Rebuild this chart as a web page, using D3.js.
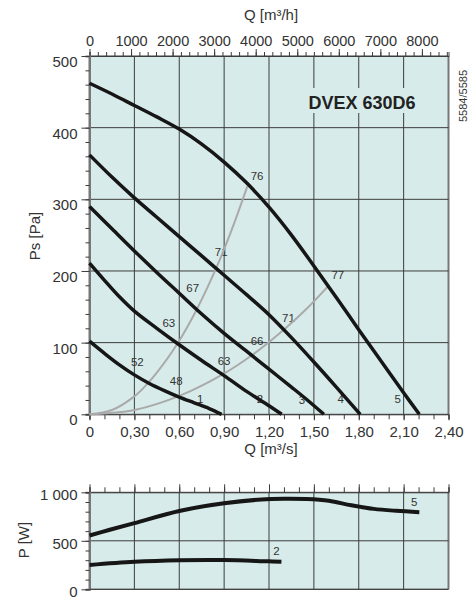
<!DOCTYPE html>
<html><head><meta charset="utf-8">
<script src="https://cdn.jsdelivr.net/npm/d3@7"></script>
<style>html,body{margin:0;padding:0;background:#fff;}svg{display:block;font-family:"Liberation Sans",Arial,sans-serif;}</style>
</head><body>
<svg id="c" width="469" height="602"></svg>
<script>
// ---------- data (Q in m³/s, Ps in Pa, P in W) ----------
const curve1 = [[0,102],[0.1,85],[0.2,69],[0.3,55],[0.4,43],[0.5,33],[0.6,24],[0.7,16],[0.8,8],[0.883,0]];
const curve2 = [[0,211],[0.1,187],[0.2,164],[0.3,144],[0.45,120],[0.6,97],[0.75,75],[0.9,54],[1.05,32],[1.2,12],[1.285,0]];
const curve3 = [[0,290],[0.15,259],[0.3,228],[0.45,198],[0.6,169],[0.75,140],[0.9,113],[1.05,88],[1.2,63],[1.35,38],[1.45,21],[1.567,0]];
const curve4 = [[0,362],[0.15,331],[0.3,302],[0.45,275],[0.6,248],[0.75,221],[0.9,194],[1.05,167],[1.2,139],[1.35,107],[1.5,73],[1.65,38],[1.81,0]];
const curve5 = [[0,462],[0.15,447],[0.3,431],[0.45,415],[0.6,398],[0.75,377],[0.9,352],[1.05,323],[1.2,289],[1.35,250],[1.5,207],[1.65,163],[1.8,118],[1.95,74],[2.1,30],[2.205,0]];
const fanCurves = [curve1, curve2, curve3, curve4, curve5];
const curveNames = ["1","2","3","4","5"];
const curveNamePos = [[0.74,22],[1.14,22],[1.42,20],[1.68,22],[2.06,22]];

const systemUpper = [[0,0],[0.15,6],[0.3,25],[0.393,44],[0.45,58],[0.583,97],[0.716,146],[0.849,205],[0.95,257],[1.055,318]];
const systemLower = [[0,0],[0.3,6],[0.605,26],[0.893,56],[1.083,82],[1.293,117],[1.45,147],[1.6,180]];
const noiseLabels = ["52","63","67","71","76","48","63","66","71","77"];
const noisePos = [[0.32,73],[0.53,128],[0.69,176],[0.88,226],[1.12,333],[0.58,46],[0.9,74],[1.12,103],[1.33,134],[1.66,195]];

const power5 = [[0,555],[0.13,611],[0.3,682],[0.6,808],[0.9,887],[1.15,926],[1.3,933],[1.45,930],[1.6,912],[1.75,866],[1.9,829],[2.05,809],[2.205,795]];
const power2 = [[0,250],[0.3,283],[0.6,299],[0.9,301],[1.2,288],[1.283,285]];
const powerNames = ["5","2"];
const powerNamePos = [[2.17,900],[1.25,400]];

const qTicks = [0,0.3,0.6,0.9,1.2,1.5,1.8,2.1,2.4];
const qTickLabels = ["0","0,30","0,60","0,90","1,20","1,50","1,80","2,10","2,40"];
const qhTicks = [0,1000,2000,3000,4000,5000,6000,7000,8000];
const psTicks = [0,100,200,300,400,500];
const pTicks = [0,500,1000];
const pTickLabels = ["0","500","1 000"];

// ---------- layout ----------
const svg = d3.select("#c");
const bg = "#d7ecea", ink = "#333", grid = "#3c3c3c";
const x = d3.scaleLinear().domain([0,2.4]).range([89.5,448.5]);
const y = d3.scaleLinear().domain([0,500]).range([414.3,56]);
const yp = d3.scaleLinear().domain([0,1000]).range([589.3,492.3]);

[y, yp].forEach(ys=>{
  const [y0,y1] = ys.range();
  svg.append("rect").attr("x",x(0)).attr("y",y1).attr("width",x(2.4)-x(0)).attr("height",y0-y1).attr("fill",bg);
});

// grid
const g = svg.append("g");
qTicks.forEach(q=>{
  const edge = (q===0||q===2.4);
  [[y(0),y(500)],[yp(0),yp(1000)]].forEach(([a,b])=>
    g.append("line").attr("x1",x(q)).attr("x2",x(q)).attr("y1",a).attr("y2",b)
      .attr("stroke",edge?"#777":grid).attr("stroke-width",edge?2:1));
});
psTicks.forEach(p=>g.append("line").attr("x1",x(0)).attr("x2",x(2.4)).attr("y1",y(p)).attr("y2",y(p)).attr("stroke",grid));
pTicks.forEach(p=>g.append("line").attr("x1",x(0)).attr("x2",x(2.4)).attr("y1",yp(p)).attr("y2",yp(p)).attr("stroke",grid));

const font = "Liberation Sans, Arial, sans-serif";
// axes via d3
const minorQ = d3.range(0,2.41,0.1).map(v=>+v.toFixed(2));
svg.append("g").attr("transform",`translate(0,${y(0)})`)
  .call(d3.axisBottom(x).tickValues(minorQ).tickSize(5).tickFormat(""))
  .call(a=>{a.select(".domain").attr("stroke",grid);a.selectAll("line").attr("stroke",grid);});
svg.append("g").attr("transform",`translate(0,${y(0)})`)
  .call(d3.axisBottom(x).tickValues(qTicks).tickSize(6).tickPadding(6).tickFormat((d,i)=>qTickLabels[i]))
  .call(a=>{a.select(".domain").remove();a.selectAll("line").attr("stroke",grid);
    a.selectAll("text").attr("font-size",15).attr("fill",ink).attr("font-family",font);});

const xh = d3.scaleLinear().domain([0,2.4*3600]).range(x.range());
svg.append("g").attr("transform",`translate(0,${y(500)})`)
  .call(d3.axisTop(xh).tickValues(d3.range(0,8641,200)).tickSize(4).tickFormat(""))
  .call(a=>{a.select(".domain").attr("stroke",grid);a.selectAll("line").attr("stroke",grid);});
svg.append("g").attr("transform",`translate(0,${y(500)})`)
  .call(d3.axisTop(xh).tickValues(qhTicks).tickSize(7).tickPadding(3).tickFormat(d3.format("d")))
  .call(a=>{a.select(".domain").remove();a.selectAll("line").attr("stroke",grid);
    a.selectAll("text").attr("font-size",14.5).attr("fill",ink).attr("font-family",font);});

svg.append("g").attr("transform",`translate(${x(0)},0)`)
  .call(d3.axisLeft(y).tickValues(d3.range(0,501,20)).tickSize(4).tickFormat(""))
  .call(a=>{a.select(".domain").attr("stroke","#777").attr("stroke-width",2);a.selectAll("line").attr("stroke",grid);});
svg.append("g").attr("transform",`translate(${x(0)},0)`)
  .call(d3.axisLeft(y).tickValues(psTicks).tickSize(8).tickPadding(4))
  .call(a=>{a.select(".domain").remove();a.selectAll("line").attr("stroke",grid);
    a.selectAll("text").attr("font-size",15).attr("fill",ink).attr("dy","0.7em").attr("font-family",font);});

// lower panel axes
svg.append("g").attr("transform",`translate(0,${yp(1000)})`)
  .call(d3.axisTop(x).tickValues(minorQ).tickSize(5).tickFormat(""))
  .call(a=>{a.select(".domain").attr("stroke",grid);a.selectAll("line").attr("stroke",grid);});
svg.append("g").attr("transform",`translate(0,${yp(1000)})`)
  .call(d3.axisTop(x).tickValues(qTicks).tickSize(8).tickFormat(""))
  .call(a=>{a.select(".domain").remove();a.selectAll("line").attr("stroke",grid);});
svg.append("g").attr("transform",`translate(${x(0)},0)`)
  .call(d3.axisLeft(yp).tickValues(d3.range(0,1001,100)).tickSize(4).tickFormat(""))
  .call(a=>{a.select(".domain").attr("stroke","#777").attr("stroke-width",2);a.selectAll("line").attr("stroke",grid);});
svg.append("g").attr("transform",`translate(${x(0)},0)`)
  .call(d3.axisLeft(yp).tickValues(pTicks).tickSize(8).tickPadding(4).tickFormat((d,i)=>pTickLabels[i]))
  .call(a=>{a.select(".domain").remove();a.selectAll("line").attr("stroke",grid);
    a.selectAll("text").attr("font-size",15).attr("fill",ink).attr("dy","0.5em").attr("font-family",font);});
svg.append("line").attr("x1",x(0)).attr("x2",x(2.4)).attr("y1",yp(0)).attr("y2",yp(0)).attr("stroke",grid);

// title with background
svg.append("rect").attr("x",304).attr("y",88).attr("width",118).attr("height",25).attr("fill",bg);
svg.append("text").attr("x",362).attr("y",109).attr("text-anchor","middle").attr("font-size",18).attr("font-weight","bold").attr("fill","#222").text("DVEX 630D6");
svg.append("text").attr("transform","translate(467,96) rotate(-90)").attr("text-anchor","middle").attr("font-size",11).attr("fill",ink).text("5584/5585");

// axis titles
svg.append("text").attr("x",271).attr("y",20).attr("text-anchor","middle").attr("font-size",15).attr("fill",ink).text("Q [m³/h]");
svg.append("text").attr("x",271).attr("y",454).attr("text-anchor","middle").attr("font-size",15).attr("fill",ink).text("Q [m³/s]");
svg.append("text").attr("transform","translate(40,236) rotate(-90)").attr("text-anchor","middle").attr("font-size",15).attr("fill",ink).text("Ps [Pa]");
svg.append("text").attr("transform","translate(29,540) rotate(-90)").attr("text-anchor","middle").attr("font-size",15).attr("fill",ink).text("P [W]");

// labels under curves
const lab = svg.append("g").attr("font-size",11.5).attr("fill",ink).attr("text-anchor","middle");
curveNames.forEach((n,i)=>lab.append("text").attr("x",x(curveNamePos[i][0])).attr("y",y(curveNamePos[i][1])).attr("dy","0.35em").text(n));
noiseLabels.forEach((n,i)=>lab.append("text").attr("x",x(noisePos[i][0])).attr("y",y(noisePos[i][1])).attr("dy","0.35em").text(n));
powerNames.forEach((n,i)=>lab.append("text").attr("x",x(powerNamePos[i][0])).attr("y",yp(powerNamePos[i][1])).attr("dy","0.35em").text(n));

// curves
const cv = d3.curveCatmullRom.alpha(0.5);
const line = d3.line().x(d=>x(d[0])).y(d=>y(d[1])).curve(cv);
const lineP = d3.line().x(d=>x(d[0])).y(d=>yp(d[1])).curve(cv);
[systemUpper, systemLower].forEach(s=>svg.append("path").attr("d",line(s)).attr("fill","none").attr("stroke","#aaa").attr("stroke-width",2));
fanCurves.forEach(c=>svg.append("path").attr("d",line(c)).attr("fill","none").attr("stroke","#161616").attr("stroke-width",3.5));
[power5, power2].forEach(c=>svg.append("path").attr("d",lineP(c)).attr("fill","none").attr("stroke","#161616").attr("stroke-width",4));
</script>
</body></html>
